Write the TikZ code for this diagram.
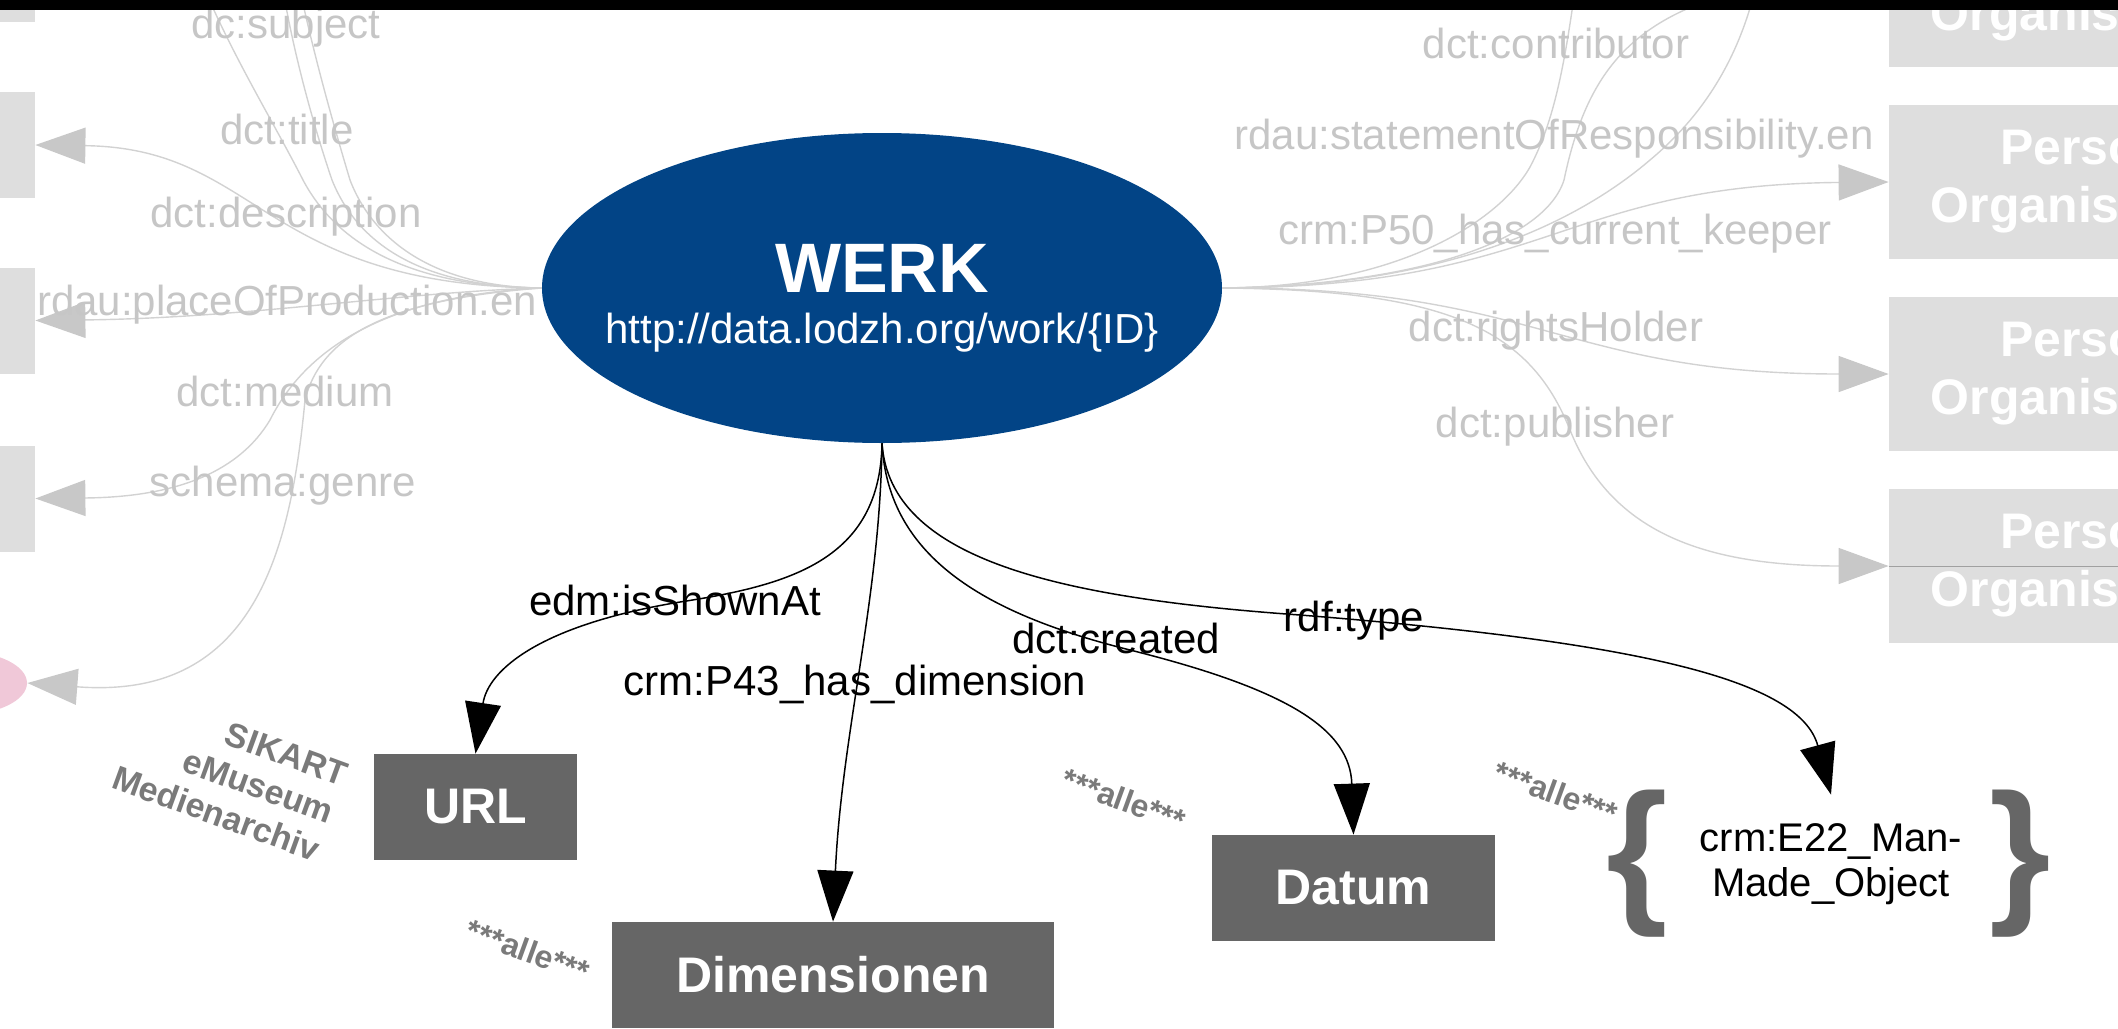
\documentclass[tikz,border=0pt]{standalone}
\usepackage{fontspec}
\setmainfont{Liberation Sans}
\usetikzlibrary{arrows.meta,positioning,shapes.geometric}
\definecolor{werkblue}{HTML}{024486}
\definecolor{boxgray}{HTML}{666666}
\definecolor{lightbox}{HTML}{DEDEDE}
\definecolor{ghosttext}{HTML}{C6C6C6}
\definecolor{ghostline}{HTML}{D2D2D2}
\definecolor{ghostarrow}{HTML}{C8C8C8}
\definecolor{notegray}{HTML}{7A7A7A}
\definecolor{pinkish}{HTML}{F0C8D8}

\begin{document}
\begin{tikzpicture}[x=0.5pt,y=-0.5pt]
  \tikzset{lab/.style={font=\fontsize{21}{25}\selectfont,inner sep=0pt},
    ghostlab/.style={lab,text=ghosttext},
    darkbox/.style={fill=boxgray,text=white,font=\fontsize{25}{29}\selectfont\bfseries,minimum height=53pt,inner sep=0pt},
    greybox/.style={fill=lightbox,text=white,font=\fontsize{25}{29}\selectfont\bfseries,align=center,minimum width=196pt,minimum height=77pt,inner sep=0pt},
    note/.style={text=notegray,font=\fontsize{16}{19}\selectfont\bfseries,rotate=-20,inner sep=0pt},
    bracket/.style={text=boxgray,font=\fontsize{79}{79}\selectfont\bfseries,inner sep=0pt},
    blackedge/.style={draw=black,line width=0.75pt,-{Triangle[length=25.5pt,width=18pt]}},
    ghostedge/.style={draw=ghostline,line width=0.7pt},
    ghostarr/.style={ghostedge,-{Triangle[length=25pt,width=18pt,color=ghostarrow]}}}
  \useasboundingbox (0,0) rectangle (2118,1028);
  \clip (0,0) rectangle (2118,1028);

  % grey context nodes
  \foreach \y [count=\i from 0] in {-31,145,320.5,498.5}
    \node[greybox,minimum width=115pt,minimum height=53pt] (lb\i) at (-80,\y) {};
  \foreach \y [count=\i] in {-10,182,374,566}
    \node[greybox] (rb\i) at (2085,\y) {Person\\Organisation};
  \node[ellipse,fill=pinkish,minimum width=67pt,minimum height=32pt,inner sep=0pt] (pink) at (-40,683) {};
  \draw[draw=ghostarrow!80!black,line width=0.5pt] (rb4.west) -- (rb4.east);

  % main node
  \node[ellipse,fill=werkblue,text=white,minimum width=340pt,minimum height=155pt,inner xsep=-20pt,inner ysep=0pt,
        align=center,font=\fontsize{21}{25.5}\selectfont] (werk) at (882,288)
        {\rule{0pt}{34pt}{\fontsize{35}{40}\selectfont\bfseries WERK}\\http://data.lodzh.org/work/\{ID\}};

  % targets
  \node[darkbox,minimum width=101.5pt] (url) at (475.5,807) {URL};
  \node[darkbox,minimum width=221pt] (dim) at (833,975) {Dimensionen};
  \node[darkbox,minimum width=141.5pt] (datum) at (1353.5,888) {Datum};
  \node[lab,font=\fontsize{20}{22.5}\selectfont,align=center,minimum width=162pt,minimum height=69pt] (e22) at (1831,864)
        {crm:E22\_Man-\\Made\_Object};
  \node[bracket,left=0pt of e22] (lbrace) {\{};
  \node[bracket,right=-2pt of e22] (rbrace) {\}};

  \node[note,align=right,font=\fontsize{17}{20}\selectfont\bfseries] (srcs) at (230,776) {SIKART\\eMuseum\\Medienarchiv};
  \node[note] (alle1) at (528,951) {***alle***};
  \node[note] (alle2) at (1124,800) {***alle***};
  \node[note] (alle3) at (1556,793) {***alle***};

  % grey edges, left
  \coordinate (upA) at (205,-10);
  \coordinate (upB) at (283,-10);
  \coordinate (upC) at (300,-10);
  \draw[ghostedge] (werk.west) .. controls (420,287) and (340,250) .. (303,180) .. controls (275,125) and (235,60) .. (upA);
  \draw[ghostedge] (werk.west) .. controls (430,287) and (360,250) .. (332,180) .. controls (315,130) and (295,60) .. (upB);
  \draw[ghostedge] (werk.west) .. controls (440,287) and (375,245) .. (350,180) .. controls (335,130) and (315,60) .. (upC);
  \draw[ghostarr] (werk.west) .. controls (260,285) and (260,148) .. (lb1.east);
  \draw[ghostarr] (werk.west) .. controls (400,292) and (250,318) .. (lb2.east);
  \draw[ghostarr] (werk.west) .. controls (400,295) and (310,340) .. (270,420) .. controls (240,470) and (180,497) .. (lb3.east);
  \draw[ghostarr] (werk.west) .. controls (380,300) and (320,340) .. (305,400) .. controls (290,560) and (250,700) .. (pink.east);

  % grey edges, right
  \coordinate (upF) at (1575,-10);
  \coordinate (upG) at (1725,-5);
  \coordinate (upH) at (1755,-10);
  \draw[ghostedge] (werk.east) .. controls (1400,287) and (1500,220) .. (1530,167) .. controls (1555,120) and (1565,60) .. (upF);
  \draw[ghostedge] (werk.east) .. controls (1420,285) and (1545,240) .. (1564,180) .. controls (1585,80) and (1625,25) .. (upG);
  \draw[ghostedge] (werk.east) .. controls (1450,287) and (1580,220) .. (1650,160) .. controls (1710,110) and (1740,50) .. (upH);
  \draw[ghostarr] (werk.east) .. controls (1550,287) and (1560,185) .. (rb2.west);
  \draw[ghostarr] (werk.east) .. controls (1540,287) and (1560,374) .. (rb3.west);
  \draw[ghostarr] (werk.east) .. controls (1450,290) and (1530,330) .. (1570,430) .. controls (1610,530) and (1700,566) .. (rb4.west);

  \foreach \x/\y/\t [count=\i] in {286/28/dc:subject,287/129/dct:title,286/217/dct:description,
      287/305/rdau:placeOfProduction.en,285/391/dct:medium,283/486/schema:genre,
      1556/43/dct:contributor,1554/139/rdau:statementOfResponsibility.en,
      1555/234/crm:P50\_has\_current\_keeper,1556/331/dct:rightsHolder,1555/427/dct:publisher}
    \node[ghostlab] (gl\i) at (\x,\y) {\t};

  % black edges
  \draw[blackedge] (werk.south) .. controls (880,560) and (790,585) .. (680,602) .. controls (540,625) and (488,670) .. (url.north);
  \draw[blackedge] (werk.south) .. controls (880,600) and (842,730) .. (dim.north);
  \draw[blackedge] (werk.south) .. controls (888,560) and (990,615) .. (1130,650) .. controls (1290,690) and (1350,730) .. (datum.north);
  \draw[blackedge] (werk.south) .. controls (890,560) and (1060,598) .. (1300,615) .. controls (1640,642) and (1800,680) .. (e22.north);

  \node[lab] (lshown) at (675,600) {edm:isShownAt};
  \node[lab] (ldim) at (855,684) {crm:P43\_has\_dimension};
  \node[lab] (lcreated) at (1116,638) {dct:created};
  \node[lab] (ltype) at (1354,621) {rdf:type};

  \fill[black] (0,0) rectangle (2118,10);
\end{tikzpicture}
\end{document}
